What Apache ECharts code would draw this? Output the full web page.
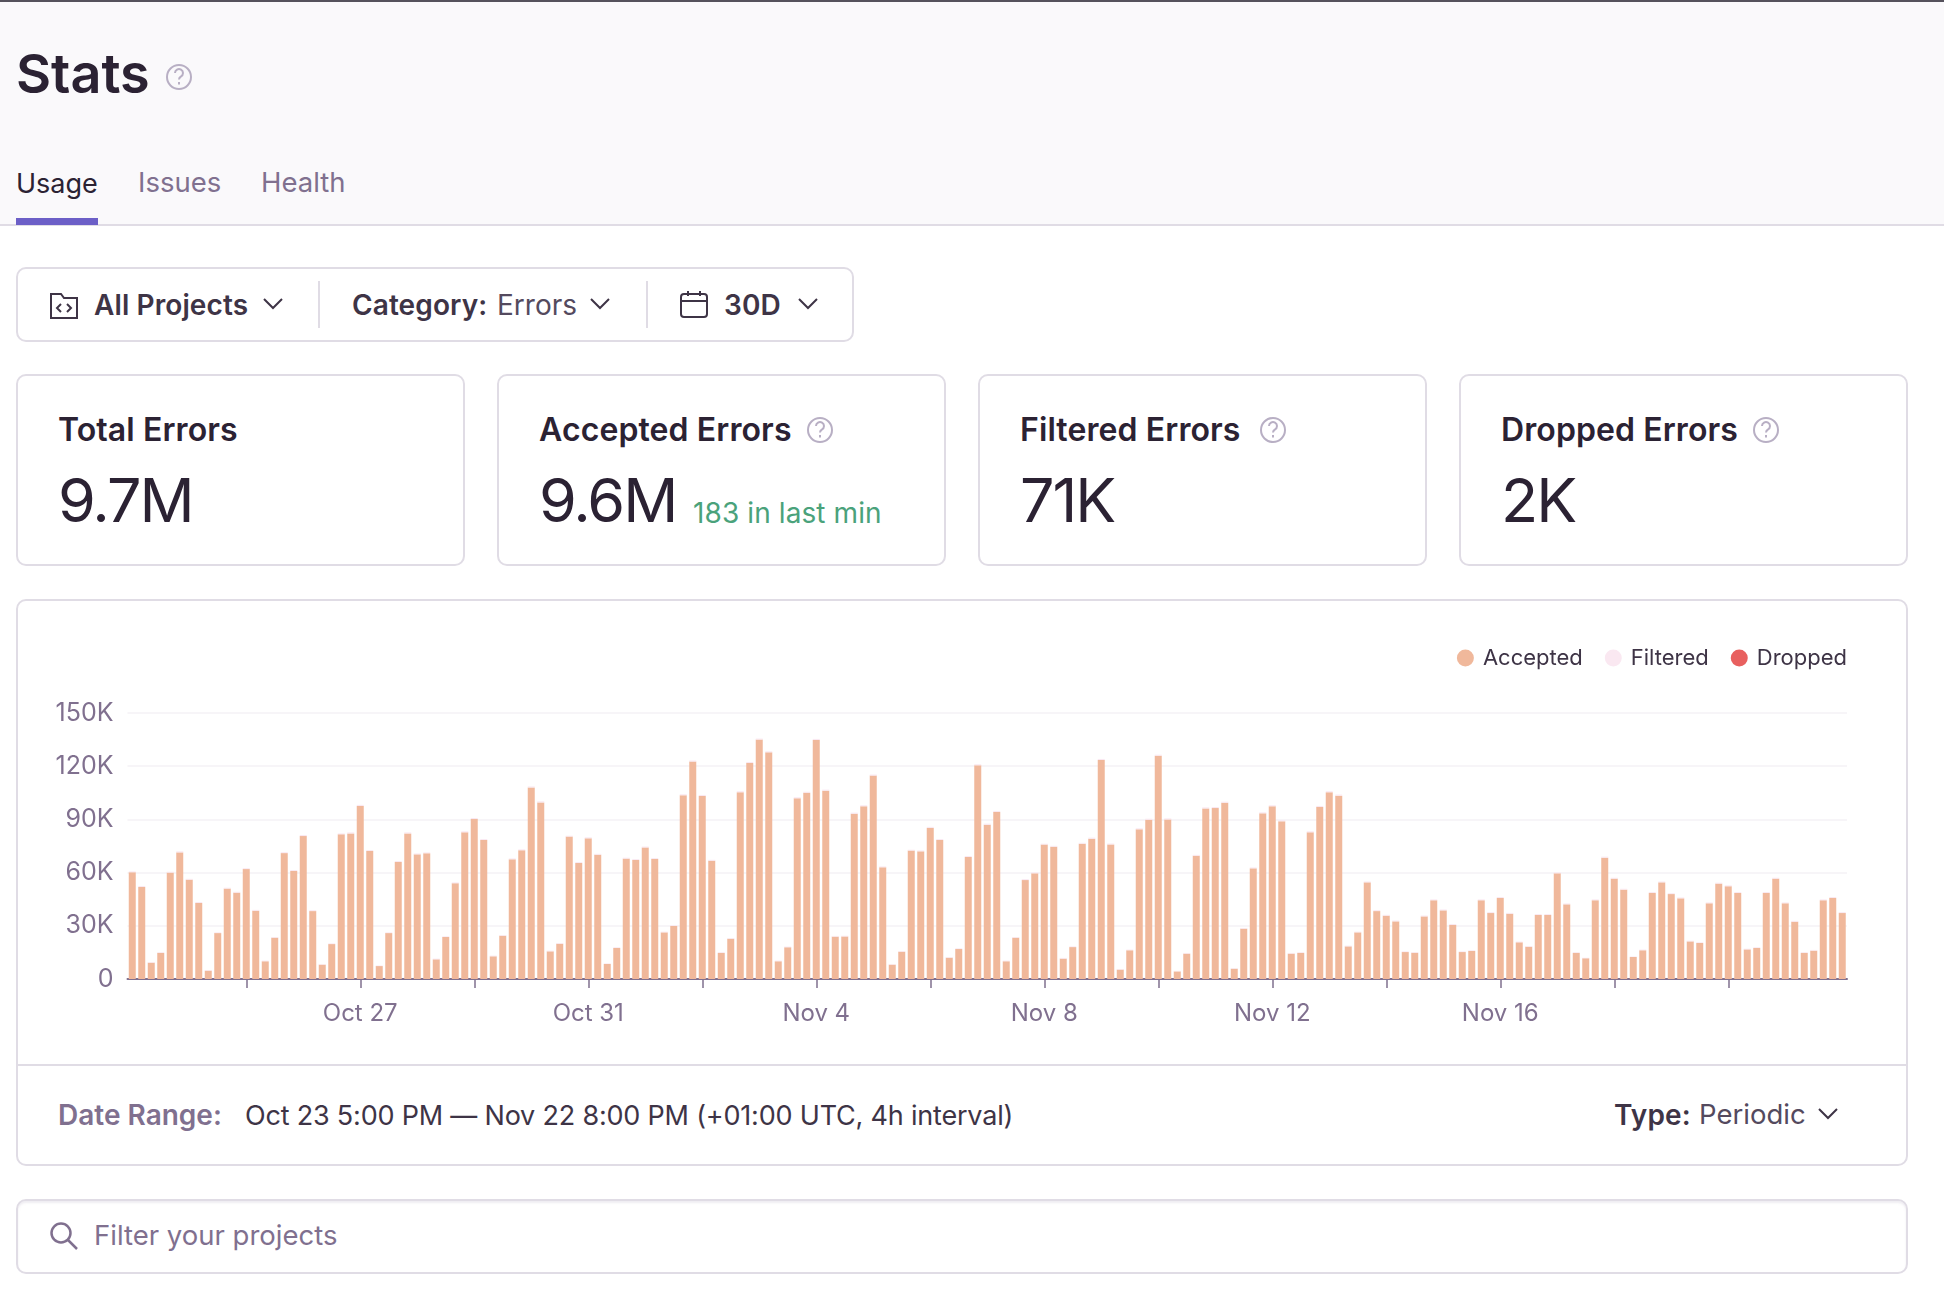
<!DOCTYPE html>
<html>
<head>
<meta charset="utf-8">
<title>Stats</title>
<script src="https://cdn.jsdelivr.net/npm/echarts@6/dist/echarts.min.js"></script>
<style>
    html, body { margin: 0; padding: 0; background: #fff; }
    body { width: 1944px; height: 1292px; position: relative; overflow: hidden; font-family: Inter, sans-serif; color: #2B2233; }
    .abs { position: absolute; }
    .txt { position: absolute; white-space: nowrap; line-height: 1; transform: translateY(-50%); }
    .box { position: absolute; box-sizing: border-box; border: 2px solid #E0DCE5; border-radius: 10px; background: #fff; }
    .title { font-size: 32px; font-weight: 600; letter-spacing: 0.1px; color: #2B2233; }
    .big { font-size: 61px; font-weight: 400; letter-spacing: -2px; color: #2B2233; }
    .ctrl { font-size: 28px; font-weight: 600; letter-spacing: 0.1px; color: #3E3446; }
    svg { position: absolute; overflow: visible; }
</style>
</head>
<body>
<div class="abs" style="left:0;top:0;width:1944px;height:225px;background:#FAF9FB"></div>
<div class="abs" style="left:0;top:0;width:1944px;height:2px;background:#55525C"></div>
<div class="abs" style="left:0;top:224px;width:1944px;height:2px;background:#E0DCE5"></div>
<div class="abs" style="left:16px;top:218px;width:82px;height:7px;background:#6C5FC7"></div>

<div class="txt" style="left:16px;top:74px;font-size:54px;font-weight:600">Stats</div>
<div class="help" data-x="179" data-y="77" data-r="13"></div>

<div class="txt" style="left:16px;top:183px;font-size:27px;color:#2B2233">Usage</div>
<div class="txt" style="left:138px;top:183px;font-size:27.5px;color:#80708F">Issues</div>
<div class="txt" style="left:261px;top:183px;font-size:27.5px;color:#80708F">Health</div>

<!-- Barra de filtros -->
<div class="box" style="left:16px;top:267px;width:838px;height:75px"></div>
<div class="abs" style="left:318px;top:281px;width:2px;height:47px;background:#E0DCE5"></div>
<div class="abs" style="left:646px;top:281px;width:2px;height:47px;background:#E0DCE5"></div>
<svg style="left:50px;top:291px" width="28" height="28" fill="none" stroke="#3E3446" stroke-width="2">
    <path d="M1 3h10l3 4h13v20H1z"/><path d="M11 13l-4 4 4 4M17 13l4 4-4 4"/>
</svg>
<div class="txt ctrl" style="left:94px;top:305px">All Projects</div>
<svg style="left:263px;top:298px" width="20" height="12" fill="none" stroke="#3E3446" stroke-width="2"><path d="M1 1l9 9 9-9"/></svg>
<div class="txt ctrl" style="left:352px;top:305px">Category:</div>
<div class="txt" style="left:497px;top:305px;font-size:28px;color:#544A5E">Errors</div>
<svg style="left:590px;top:298px" width="20" height="12" fill="none" stroke="#3E3446" stroke-width="2"><path d="M1 1l9 9 9-9"/></svg>
<svg style="left:680px;top:290px" width="28" height="28" fill="none" stroke="#3E3446" stroke-width="2">
    <rect x="1" y="4" width="26" height="23" rx="3"/><path d="M1 11h26M8 1v5M20 1v5"/>
</svg>
<div class="txt ctrl" style="left:724px;top:305px">30D</div>
<svg style="left:798px;top:298px" width="20" height="12" fill="none" stroke="#3E3446" stroke-width="2"><path d="M1 1l9 9 9-9"/></svg>

<!-- Cards -->
<div class="box" style="left:16px;top:374px;width:449px;height:192px"></div>
<div class="box" style="left:497px;top:374px;width:449px;height:192px"></div>
<div class="box" style="left:978px;top:374px;width:449px;height:192px"></div>
<div class="box" style="left:1459px;top:374px;width:449px;height:192px"></div>

<div class="txt title" style="left:58px;top:430px">Total Errors</div>
<div class="txt big" style="left:58px;top:500px">9.7M</div>
<div class="txt title" style="left:539px;top:430px">Accepted Errors</div>
<div class="txt big" style="left:539px;top:500px">9.6M</div>
<div class="txt" style="left:693px;top:513px;font-size:28px;color:#4AA27B;letter-spacing:0.1px">183 in last min</div>
<div class="txt title" style="left:1020px;top:430px">Filtered Errors</div>
<div class="txt big" style="left:1020px;top:500px">71K</div>
<div class="txt title" style="left:1501px;top:430px">Dropped Errors</div>
<div class="txt big" style="left:1501px;top:500px">2K</div>
<div class="help" data-x="820" data-y="430" data-r="13"></div>
<div class="help" data-x="1273" data-y="430" data-r="13"></div>
<div class="help" data-x="1766" data-y="430" data-r="13"></div>

<!-- Painel do gráfico -->
<div class="box" style="left:16px;top:599px;width:1892px;height:567px"></div>
<div class="abs" style="left:16px;top:1064px;width:1892px;height:2px;background:#E0DCE5"></div>
<div id="usageChart" class="abs" style="left:0;top:599px;width:1944px;height:465px"></div>

<div class="txt" style="left:58px;top:1115px;font-size:28px;font-weight:600;color:#80708F">Date Range:</div>
<div class="txt" style="left:245px;top:1115px;font-size:27px;color:#3E3446;letter-spacing:-0.2px">Oct 23 5:00 PM — Nov 22 8:00 PM (+01:00 UTC, 4h interval)</div>
<div class="txt ctrl" style="left:1614px;top:1115px">Type:</div>
<div class="txt" style="left:1699px;top:1115px;font-size:27.5px;color:#544A5E">Periodic</div>
<svg style="left:1818px;top:1108px" width="20" height="12" fill="none" stroke="#3E3446" stroke-width="2"><path d="M1 1l9 9 9-9"/></svg>

<!-- Filtro de projetos -->
<div class="box" style="left:16px;top:1199px;width:1892px;height:75px;box-shadow:inset 0 2px 2px rgba(224,220,229,0.5)"></div>
<svg style="left:50px;top:1222px" width="28" height="28" fill="none" stroke="#80708F" stroke-width="2.5">
    <circle cx="11" cy="11" r="9.5"/><path d="M18 18l9 9"/>
</svg>
<div class="txt" style="left:94px;top:1236px;font-size:27.5px;color:#80708F">Filter your projects</div>

<script>
// Cores do tema
const COLORS = {
    accepted: '#F0B89B',
    filtered: '#FAE8F1',
    dropped: '#E8605F',
    axis: '#80708F',
    text: '#3E3446',
    grid: '#F7F5F8'
};

// Valores (um por intervalo de 4h, a partir de Oct 23 5PM)
const acceptedValues = [
    60200, 51900, 9200, 14700, 60000, 71400, 56000, 42900, 4700, 25900, 51000, 48700,
    62000, 38500, 10000, 23300, 71000, 60900, 80600, 38300, 8100, 19700, 81600, 82100,
    97600, 72200, 7300, 25900, 66000, 82100, 70300, 70900, 11100, 23700, 54000, 82700,
    90200, 78400, 12800, 24400, 67500, 72600, 108000, 99600, 15600, 19900, 80300, 65400,
    79300, 70100, 8500, 17500, 67900, 67100, 74200, 67700, 26300, 29900, 103600, 122600,
    103200, 66700, 14700, 22700, 105300, 121800, 135000, 127800, 10000, 17900, 101900, 105000,
    134800, 106200, 23900, 24000, 93200, 97400, 114700, 63000, 8100, 15400, 72400, 72000,
    85200, 78400, 12000, 16900, 68800, 120500, 87000, 94200, 10000, 23300, 55800, 59600,
    75800, 74600, 11500, 18000, 76300, 79100, 123500, 75900, 5300, 16200, 84400, 89800,
    125900, 90000, 4300, 14300, 69500, 96200, 96400, 99400, 5800, 28400, 62400, 93400,
    97400, 88900, 14300, 14700, 82700, 97000, 105300, 103400, 18400, 26300, 54500, 38300,
    35700, 32500, 15200, 14800, 35300, 44400, 38700, 30500, 15200, 15800, 44400, 37200,
    45700, 36800, 20700, 18200, 36100, 36100, 59600, 42100, 14700, 11700, 44400, 68400,
    56600, 50400, 12400, 16200, 48500, 54500, 47900, 45500, 21200, 20300, 42700, 53800,
    52300, 48500, 16700, 17500, 48500, 56600, 42700, 32300, 14700, 16000, 44400, 45700,
    37200
];
const filteredValues = [
    500, 500, 400, 400, 500, 600, 500, 500, 300, 400, 500, 500,
    500, 500, 400, 400, 500, 500, 600, 500, 300, 400, 500, 600,
    600, 500, 300, 400, 500, 600, 500, 500, 400, 400, 500, 600,
    600, 500, 400, 400, 500, 500, 600, 600, 400, 400, 500, 500,
    600, 500, 300, 400, 500, 500, 500, 500, 400, 400, 600, 600,
    600, 500, 400, 400, 600, 600, 600, 600, 400, 400, 600, 600,
    600, 600, 400, 400, 600, 600, 600, 500, 300, 400, 500, 500,
    600, 500, 400, 400, 500, 600, 600, 600, 400, 400, 500, 500,
    500, 500, 400, 400, 500, 600, 600, 500, 300, 400, 600, 600,
    600, 600, 300, 400, 500, 600, 600, 600, 300, 400, 500, 600,
    600, 600, 400, 400, 600, 600, 600, 600, 400, 400, 500, 500,
    500, 500, 400, 400, 500, 500, 500, 500, 400, 400, 500, 500,
    500, 500, 400, 400, 500, 500, 500, 500, 400, 300, 500, 600,
    500, 500, 300, 400, 500, 500, 500, 500, 400, 400, 500, 500,
    500, 500, 400, 400, 500, 500, 500, 500, 400, 400, 500, 500,
    500
];
// Nenhuma barra de Dropped é visível na escala do gráfico
const droppedValues = [];

const yTickValues = [0, 30000, 60000, 90000, 120000, 150000];
const xTickIndexes = [12, 24, 36, 48, 60, 72, 84, 96, 108, 120, 132, 144, 156, 168];
const xLabelIndexes = [24, 48, 72, 96, 120, 144];

// Categorias: um intervalo de 4h por barra
const categories = acceptedValues.map((_, i) => {
    const d = new Date(Date.UTC(2021, 9, 23, 17 + i * 4));
    return d.toLocaleDateString('en-US', { month: 'short', day: 'numeric', timeZone: 'UTC' });
});

// Ícones de ajuda
document.querySelectorAll('.help').forEach(el => {
    const x = +el.dataset.x, y = +el.dataset.y, r = +el.dataset.r;
    el.innerHTML = `<svg style="left:${x - r}px;top:${y - r}px" width="${2 * r}" height="${2 * r}" fill="none" stroke="#B8AFC4" stroke-width="2">
        <circle cx="${r}" cy="${r}" r="${r - 1}"/>
        <path d="M${r - 4} ${r - 4}a4 4 0 1 1 6 3.5c-1.5 .8-2 1.5-2 3"/>
        <path d="M${r} ${r + 5}v2.5"/></svg>`;
});

// Gráfico de uso
function createUsageChart() {
    const chart = echarts.init(document.getElementById('usageChart'));

    const option = {
        animation: false,
        backgroundColor: 'transparent',
        textStyle: { fontFamily: 'Inter, sans-serif' },
        legend: {
            right: 92,
            top: 43,
            icon: 'circle',
            itemWidth: 17,
            itemHeight: 17,
            itemGap: 22,
            selectedMode: false,
            textStyle: { color: COLORS.text, fontSize: 22, padding: [0, 0, 0, 4] },
            data: ['Accepted', 'Filtered', 'Dropped']
        },
        grid: { left: 127.5, right: 97, top: 114, height: 266 },
        xAxis: {
            type: 'category',
            data: categories,
            axisLine: { lineStyle: { color: COLORS.axis, width: 2 } },
            axisTick: {
                show: true,
                alignWithLabel: true,
                length: 9,
                lineStyle: { color: COLORS.axis, width: 1.5 },
                interval: i => xTickIndexes.includes(i)
            },
            axisLabel: {
                color: COLORS.axis,
                fontSize: 24,
                margin: 23,
                interval: i => xLabelIndexes.includes(i)
            }
        },
        yAxis: {
            type: 'value',
            min: yTickValues[0],
            max: yTickValues[yTickValues.length - 1],
            interval: yTickValues[1],
            axisLine: { show: false },
            axisTick: { show: false },
            axisLabel: {
                color: COLORS.axis,
                fontSize: 25,
                margin: 14,
                formatter: v => v === 0 ? '0' : (v / 1000) + 'K'
            },
            splitLine: { lineStyle: { color: COLORS.grid, width: 2 } }
        },
        series: [
            { name: 'Accepted', type: 'bar', stack: 'usage', barWidth: 7, data: acceptedValues, itemStyle: { color: COLORS.accepted } },
            { name: 'Filtered', type: 'bar', stack: 'usage', barWidth: 7, data: filteredValues, itemStyle: { color: COLORS.filtered } },
            { name: 'Dropped', type: 'bar', stack: 'usage', barWidth: 7, data: droppedValues, itemStyle: { color: COLORS.dropped } }
        ]
    };

    chart.setOption(option);
    window.addEventListener('resize', () => chart.resize());
}

document.addEventListener('DOMContentLoaded', createUsageChart);
</script>
</body>
</html>
